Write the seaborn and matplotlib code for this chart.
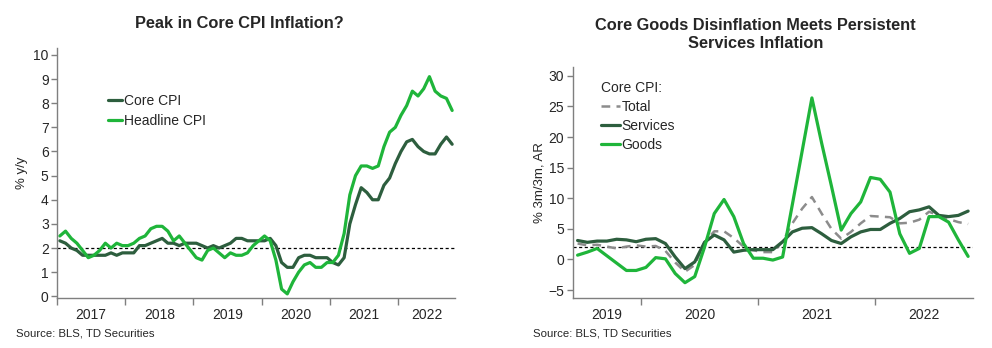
import matplotlib
matplotlib.use("Agg")
import matplotlib.pyplot as plt
import seaborn as sns
import numpy as np
import pandas as pd

# ---------------- data ----------------
# Left chart: monthly y/y, Jan 2017 .. Oct 2022
core_cpi = [2.3, 2.2, 2.0, 1.9, 1.7, 1.7, 1.7, 1.7, 1.7, 1.8, 1.7, 1.8,
            1.8, 1.8, 2.1, 2.1, 2.2, 2.3, 2.4, 2.2, 2.2, 2.1, 2.2, 2.2,
            2.2, 2.1, 2.0, 2.1, 2.0, 2.1, 2.2, 2.4, 2.4, 2.3, 2.3, 2.3,
            2.3, 2.4, 2.1, 1.4, 1.2, 1.2, 1.6, 1.7, 1.7, 1.6, 1.6, 1.6,
            1.4, 1.3, 1.6, 3.0, 3.8, 4.5, 4.3, 4.0, 4.0, 4.6, 4.9, 5.5,
            6.0, 6.4, 6.5, 6.2, 6.0, 5.9, 5.9, 6.3, 6.6, 6.3]
headline_cpi = [2.5, 2.7, 2.4, 2.2, 1.9, 1.6, 1.7, 1.9, 2.2, 2.0, 2.2, 2.1,
                2.1, 2.2, 2.4, 2.5, 2.8, 2.9, 2.9, 2.7, 2.3, 2.5, 2.2, 1.9,
                1.6, 1.5, 1.9, 2.0, 1.8, 1.6, 1.8, 1.7, 1.7, 1.8, 2.1, 2.3,
                2.5, 2.3, 1.5, 0.3, 0.1, 0.6, 1.0, 1.3, 1.4, 1.2, 1.2, 1.4,
                1.4, 1.7, 2.6, 4.2, 5.0, 5.4, 5.4, 5.3, 5.4, 6.2, 6.8, 7.0,
                7.5, 7.9, 8.5, 8.3, 8.6, 9.1, 8.5, 8.3, 8.2, 7.7]
left_years = ["2017", "2018", "2019", "2020", "2021", "2022"]

# Right chart: 3m/3m annualized, Jun 2019 .. Oct 2022
core_total = [2.6, 2.3, 2.4, 2.1, 1.8, 2.1, 2.3,
              2.1, 2.2, 1.4, -0.5, -2.0, -0.9, 2.8, 4.6, 4.6, 3.5, 2.1, 1.5,
              1.2, 1.2, 2.9, 5.9, 8.3, 10.2, 7.5, 5.0, 3.4, 4.5, 5.9, 7.1,
              7.0, 6.9, 5.9, 6.0, 6.5, 7.8, 7.2, 6.6, 6.1, 5.8]
core_services = [3.1, 2.8, 3.0, 3.0, 3.3, 3.2, 2.9,
                 3.3, 3.4, 2.6, 0.4, -1.5, -0.4, 2.8, 4.0, 3.2, 1.2, 1.5, 1.6,
                 1.6, 1.6, 2.9, 4.5, 5.1, 5.2, 4.2, 3.1, 2.6, 3.7, 4.5, 4.9,
                 4.9, 5.9, 6.7, 7.8, 8.1, 8.6, 7.2, 7.0, 7.2, 7.9]
core_goods = [0.7, 1.2, 1.8, 0.6, -0.6, -1.8, -1.8,
              -1.3, 0.3, 0.1, -2.3, -3.8, -2.8, 2.0, 7.5, 9.8, 7.0, 2.6, 0.2,
              0.2, -0.1, 0.4, 9.0, 17.7, 26.4, 19.0, 12.0, 4.8, 7.5, 9.4, 13.4,
              13.1, 11.0, 4.2, 1.0, 1.8, 7.0, 7.0, 6.1, 3.2, 0.5]
right_years = ["2019", "2020", "2021", "2022"]

DARK = "#2d5e3e"
BRIGHT = "#1fb53a"
GRAY = "#8c8c8c"

sns.set_theme(style="white")
plt.rcParams["font.family"] = ["Liberation Sans", "DejaVu Sans"]

fig = plt.figure(figsize=(9.92, 3.48), dpi=100)
axL = fig.add_axes([57 / 992, 50 / 348, 398 / 992, 250.3 / 348])
axR = fig.add_axes([572.7 / 992, 50 / 348, 400.3 / 992, 231.3 / 348])

# ---------------- left ----------------
dfL = pd.DataFrame({"m": np.arange(len(core_cpi)), "Core CPI": core_cpi,
                    "Headline CPI": headline_cpi})
sns.lineplot(data=dfL, x="m", y="Core CPI", ax=axL, color=DARK, lw=2.3,
             label="Core CPI")
sns.lineplot(data=dfL, x="m", y="Headline CPI", ax=axL, color=BRIGHT, lw=2.3,
             label="Headline CPI")
axL.axhline(2, color="black", lw=0.9, ls=(0, (2.5, 2)), zorder=1)
nL = len(core_cpi)
axL.set_xlim(-0.5, nL - 0.5)
axL.set_ylim(-0.07, 10.3)
axL.set_yticks(range(0, 11))
bL = [-0.5 + 12 * k for k in range(len(left_years))]
axL.set_xticks(bL)
axL.set_xticklabels([""] * len(bL))
midsL = [(b + min(b + 12, nL - 0.5)) / 2 for b in bL]
axL.set_xticks(midsL, minor=True)
axL.set_xticklabels(left_years, minor=True)
axL.set_xlabel("")
axL.set_ylabel("% y/y", fontsize=9.5, labelpad=4)
axL.legend(loc="upper left", bbox_to_anchor=(0.115, 0.838), frameon=False,
           fontsize=10, handlelength=0.95, handletextpad=0.15, labelspacing=0.42,
           borderaxespad=0)

# ---------------- right ----------------
dfR = pd.DataFrame({"m": np.arange(len(core_goods)), "Total": core_total,
                    "Services": core_services, "Goods": core_goods})
sns.lineplot(data=dfR, x="m", y="Total", ax=axR, color=GRAY, lw=1.8,
             label="Total", dashes=False)
axR.lines[-1].set_dashes((3.5, 2.5))
sns.lineplot(data=dfR, x="m", y="Services", ax=axR, color=DARK, lw=2.3,
             label="Services")
sns.lineplot(data=dfR, x="m", y="Goods", ax=axR, color=BRIGHT, lw=2.3,
             label="Goods")
axR.axhline(2, color="black", lw=0.9, ls=(0, (2.5, 2)), zorder=1)
nR = len(core_goods)
axR.set_xlim(-0.5, nR - 0.5)
axR.set_ylim(-6.3, 31.5)
axR.set_yticks(range(-5, 31, 5))
bR = [6.5 + 12 * k for k in range(len(right_years) - 1)]
axR.set_xticks(bR)
axR.set_xticklabels([""] * len(bR))
edges = [-0.5] + bR + [nR - 0.5]
midsR = [(edges[i] + edges[i + 1]) / 2 for i in range(len(edges) - 1)]
axR.set_xticks(midsR, minor=True)
axR.set_xticklabels(right_years, minor=True)
axR.set_xlabel("")
axR.set_ylabel("% 3m/3m, AR", fontsize=9.5, labelpad=2)
legR = axR.legend(loc="upper left", bbox_to_anchor=(0.058, 0.962), frameon=False,
                  fontsize=10, handlelength=1.3, handletextpad=0.15,
                  labelspacing=0.35, borderaxespad=0, title="Core CPI:",
                  title_fontsize=10, alignment="left")

# ---------------- common styling ----------------
for ax in (axL, axR):
    for s in ("top", "right"):
        ax.spines[s].set_visible(False)
    for s in ("left", "bottom"):
        ax.spines[s].set_color("#7f7f7f")
        ax.spines[s].set_linewidth(1.0)
    ax.tick_params(axis="y", which="major", direction="out", length=4,
                   width=1, color="#7f7f7f", labelsize=10, pad=2, left=True)
    ax.tick_params(axis="x", which="major", direction="out", length=5,
                   width=1, color="#7f7f7f", bottom=True)
    ax.tick_params(axis="x", which="minor", length=0, labelsize=10, pad=7,
                   bottom=True)
    ax.grid(False)

fig.text(239 / 992, 1 - 24 / 348, "Peak in Core CPI Inflation?", ha="center",
         va="center", fontsize=11.8, fontweight="bold")
fig.text(755.7 / 992, 1 - 34.5 / 348,
         "Core Goods Disinflation Meets Persistent\nServices Inflation",
         ha="center", va="center", fontsize=11.8, fontweight="bold",
         linespacing=1.2)
fig.text(16 / 992, 1 - 334 / 348, "Source: BLS, TD Securities", ha="left",
         va="center", fontsize=8.2)
fig.text(533 / 992, 1 - 334 / 348, "Source: BLS, TD Securities", ha="left",
         va="center", fontsize=8.2)

fig.savefig("out.png", dpi=100)
